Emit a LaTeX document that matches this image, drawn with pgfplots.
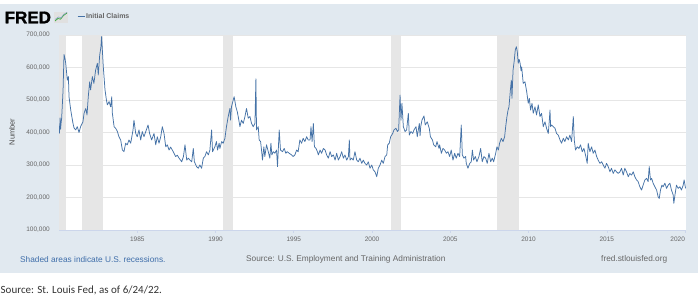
\documentclass[border=0pt]{standalone}
\usepackage{fontspec}
\setmainfont{Liberation Sans}
\newfontfamily\carlito{Carlito}
\newfontfamily\fredfont{Liberation Sans}[FakeBold=1.2]
\usepackage{pgfplots}
\usepackage{pgfplotstable}
\pgfplotsset{compat=1.18}
\definecolor{bgblue}{HTML}{E1E9F0}
\definecolor{recgray}{HTML}{E6E6E6}
\definecolor{gridgray}{HTML}{E6E6E6}
\definecolor{fredblue}{HTML}{4572A7}
\definecolor{ticktext}{HTML}{666666}
\definecolor{axisline}{HTML}{CCD6EB}
\definecolor{linkblue}{HTML}{3F6EAA}
\pgfplotstableread{
x y
1980.00 420
1980.03 398
1980.07 445
1980.10 410
1980.14 432
1980.17 444
1980.26 531
1980.32 640
1980.38 628
1980.43 613
1980.53 561
1980.60 572
1980.64 510
1980.75 469
1980.89 429
1980.96 414
1981.07 408
1981.17 418
1981.28 400
1981.38 418
1981.53 433
1981.60 459
1981.71 474
1981.79 454
1981.87 510
1981.96 556
1982.02 531
1982.13 572
1982.23 551
1982.34 592
1982.45 613
1982.51 577
1982.60 638
1982.68 664
1982.72 695
1982.77 654
1982.83 602
1982.94 531
1983.03 500
1983.09 485
1983.20 495
1983.30 479
1983.37 510
1983.41 459
1983.52 418
1983.62 413
1983.73 403
1983.83 387
1983.94 377
1984.05 346
1984.15 341
1984.26 367
1984.36 362
1984.47 377
1984.58 367
1984.73 408
1984.79 438
1984.90 397
1985.00 387
1985.11 408
1985.22 377
1985.32 403
1985.43 387
1985.58 408
1985.69 423
1985.79 397
1985.92 377
1986.07 397
1986.18 362
1986.28 387
1986.39 367
1986.50 387
1986.60 418
1986.71 397
1986.82 356
1986.92 362
1987.03 346
1987.13 355
1987.24 346
1987.35 336
1987.45 326
1987.56 330
1987.67 321
1987.84 310
1987.95 326
1988.05 362
1988.16 315
1988.26 321
1988.37 315
1988.48 310
1988.58 351
1988.65 310
1988.79 295
1988.90 290
1989.00 300
1989.11 290
1989.22 321
1989.32 326
1989.43 341
1989.54 331
1989.64 346
1989.75 408
1989.81 341
1989.96 356
1990.06 372
1990.13 346
1990.23 367
1990.28 351
1990.39 372
1990.49 367
1990.60 382
1990.70 418
1990.81 449
1990.92 474
1990.96 438
1991.02 479
1991.13 500
1991.19 510
1991.30 479
1991.39 464
1991.45 449
1991.56 418
1991.66 438
1991.77 428
1991.88 449
1991.98 474
1992.09 444
1992.20 449
1992.30 428
1992.41 418
1992.52 428
1992.58 565
1992.62 408
1992.73 418
1992.79 377
1992.88 372
1992.94 346
1993.00 315
1993.09 356
1993.15 326
1993.26 362
1993.37 341
1993.47 321
1993.54 367
1993.60 331
1993.69 341
1993.79 336
1993.90 346
1993.96 295
1994.07 408
1994.15 346
1994.28 341
1994.39 351
1994.49 336
1994.58 341
1994.71 336
1994.86 331
1994.96 326
1995.07 331
1995.18 346
1995.28 341
1995.39 377
1995.50 367
1995.60 382
1995.71 372
1995.82 387
1995.92 377
1996.04 377
1996.10 418
1996.17 372
1996.25 428
1996.32 356
1996.42 351
1996.51 341
1996.57 331
1996.68 346
1996.78 336
1996.89 351
1997.00 346
1997.10 331
1997.21 321
1997.32 341
1997.42 326
1997.53 331
1997.64 315
1997.74 336
1997.85 315
1997.96 326
1998.06 341
1998.17 321
1998.27 331
1998.38 315
1998.49 326
1998.55 377
1998.59 315
1998.70 321
1998.80 315
1998.91 341
1999.02 315
1999.12 310
1999.23 321
1999.34 305
1999.44 315
1999.55 305
1999.66 300
1999.76 310
1999.87 290
1999.98 300
2000.08 285
2000.19 279
2000.30 264
2000.40 290
2000.51 300
2000.62 315
2000.72 305
2000.83 326
2000.94 331
2001.00 362
2001.10 367
2001.19 387
2001.32 397
2001.40 408
2001.53 413
2001.62 403
2001.70 408
2001.79 515
2001.85 438
2001.91 490
2002.00 418
2002.11 403
2002.21 408
2002.32 459
2002.38 392
2002.49 403
2002.60 397
2002.68 408
2002.81 418
2002.89 387
2003.02 428
2003.07 390
2003.11 418
2003.19 438
2003.32 451
2003.40 423
2003.53 433
2003.66 412
2003.73 387
2003.86 377
2003.94 362
2004.07 356
2004.15 372
2004.28 351
2004.32 362
2004.43 336
2004.53 351
2004.64 346
2004.75 336
2004.85 341
2004.96 326
2005.06 346
2005.17 315
2005.28 336
2005.38 321
2005.49 336
2005.60 326
2005.70 423
2005.77 331
2005.87 321
2005.98 326
2006.02 305
2006.13 290
2006.24 305
2006.34 310
2006.41 346
2006.49 315
2006.60 326
2006.70 310
2006.83 326
2006.94 351
2007.04 310
2007.15 326
2007.26 321
2007.36 305
2007.47 336
2007.58 310
2007.68 321
2007.77 310
2007.90 336
2007.98 356
2008.07 346
2008.15 367
2008.26 382
2008.37 372
2008.47 387
2008.54 418
2008.62 449
2008.69 469
2008.75 479
2008.84 531
2008.90 561
2008.94 505
2009.01 592
2009.09 623
2009.15 654
2009.22 664
2009.28 649
2009.34 613
2009.40 625
2009.46 613
2009.52 590
2009.56 602
2009.66 551
2009.77 556
2009.88 526
2009.98 490
2010.05 505
2010.13 469
2010.22 490
2010.30 459
2010.41 479
2010.51 454
2010.62 485
2010.73 449
2010.83 459
2010.94 418
2011.05 433
2011.15 413
2011.26 397
2011.32 433
2011.37 469
2011.41 418
2011.47 423
2011.58 418
2011.69 413
2011.79 397
2011.90 392
2012.01 377
2012.11 367
2012.22 382
2012.32 372
2012.43 387
2012.54 377
2012.64 392
2012.75 372
2012.86 449
2012.92 377
2013.00 346
2013.11 356
2013.22 351
2013.32 362
2013.43 341
2013.54 351
2013.66 326
2013.75 305
2013.81 367
2013.92 341
2014.03 356
2014.13 336
2014.24 346
2014.35 326
2014.45 315
2014.56 305
2014.67 310
2014.77 300
2014.88 290
2014.98 305
2015.09 295
2015.20 279
2015.30 290
2015.41 274
2015.52 285
2015.62 279
2015.73 274
2015.84 279
2015.94 290
2016.05 269
2016.15 290
2016.26 279
2016.37 264
2016.47 274
2016.58 269
2016.69 279
2016.79 264
2016.90 254
2017.00 249
2017.11 233
2017.22 223
2017.32 238
2017.43 254
2017.54 259
2017.64 249
2017.71 295
2017.79 254
2017.86 259
2017.96 244
2018.07 233
2018.18 223
2018.28 202
2018.35 197
2018.43 223
2018.52 238
2018.60 233
2018.71 244
2018.82 228
2018.92 238
2019.03 244
2019.13 223
2019.24 208
2019.28 182
2019.37 213
2019.45 238
2019.56 228
2019.67 233
2019.77 223
2019.88 238
2019.94 254
2020.03 228
}\claims

\begin{document}
\begin{tikzpicture}[x=1pt,y=1pt]
\path[use as bounding box] (0,0) rectangle (698,304);
\fill[white] (0,0) rectangle (698,304);
\fill[bgblue] (0,31.3) rectangle (698,299.7);
\begin{axis}[
  at={(59pt,74pt)}, anchor=south west, scale only axis,
  width=627pt, height=195pt,
  xmin=1980, xmax=2020.06, ymin=100, ymax=700,
  axis background/.style={fill=white},
  axis x line*=bottom, axis y line*=left,
  x axis line style={draw=axisline, line width=0.8pt},
  y axis line style={draw=none},
  ytick={100,200,...,700},
  yticklabels={{100,000},{200,000},{300,000},{400,000},{500,000},{600,000},{700,000}},
  xtick={1985,1990,...,2015},
  extra x ticks={2020},
  extra x tick labels={2020},
  extra x tick style={xticklabel style={anchor=north east}},
  /pgf/number format/1000 sep={},
  /pgf/number format/assume math mode=true,
  ytick style={draw=none},
  xtick style={draw=axisline, line width=0.6pt},
  xtick align=outside,
  major tick length=3pt,
  ymajorgrids,
  grid style={draw=gridgray, line width=0.8pt},
  tick label style={font=\fontsize{6.5}{7}\selectfont, text=ticktext, inner sep=0pt},
  yticklabel style={anchor=east, xshift=-9pt},
  xticklabel style={anchor=north, yshift=-3.5pt},
  clip=true,
]
\addplot[fill=recgray, draw=none, forget plot] coordinates {(1980.0,100) (1980.0,700) (1980.47,700) (1980.47,100)} -- cycle;
\addplot[fill=recgray, draw=none, forget plot] coordinates {(1981.50,100) (1981.50,700) (1982.78,700) (1982.78,100)} -- cycle;
\addplot[fill=recgray, draw=none, forget plot] coordinates {(1990.50,100) (1990.50,700) (1991.14,700) (1991.14,100)} -- cycle;
\addplot[fill=recgray, draw=none, forget plot] coordinates {(2001.19,100) (2001.19,700) (2001.83,700) (2001.83,100)} -- cycle;
\addplot[fill=recgray, draw=none, forget plot] coordinates {(2007.97,100) (2007.97,700) (2009.41,700) (2009.41,100)} -- cycle;
\addplot[fredblue, line width=0.75pt, line join=round, mark=none] table[x=x,y=y]{\claims};
\end{axis}
% header
\node[anchor=west, inner sep=0pt, font=\fredfont\fontsize{17}{17}\selectfont\bfseries] at (4.5,286.5) {FRED};
\fill[black!12] (54,281.3) rectangle (68,292.3);
\draw[green!55!black!80, line width=0.7pt] (55,283) -- (58,285.5) -- (60.5,284.8) -- (63.5,288.5) -- (67,291);
\draw[fredblue!70, line width=0.5pt] (55,284.5) -- (58.5,287) -- (61,286.2) -- (64,289.8) -- (67,291.6);
\draw[fredblue, line width=1.2pt] (77.5,287.7) -- (84.5,287.7);
\node[anchor=west, inner sep=0pt, font=\fontsize{7}{8}\selectfont\bfseries, text=ticktext] at (86,287.7) {Initial Claims};
% y label
\node[rotate=90, inner sep=0pt, font=\fontsize{7.5}{9}\selectfont, text=black!70] at (12,172) {Number};
% footer
\node[anchor=west, inner sep=0pt, font=\fontsize{8.3}{10}\selectfont, text=linkblue] at (20,44.7) {Shaded areas indicate U.S. recessions.};
\node[anchor=west, inner sep=0pt, font=\fontsize{8.3}{10}\selectfont, text=ticktext] at (246,45) {Source: U.S. Employment and Training Administration};
\node[anchor=west, inner sep=0pt, font=\fontsize{8.3}{10}\selectfont, text=ticktext] at (601,45) {fred.stlouisfed.org};
\node[anchor=west, inner sep=0pt, font=\carlito\fontsize{11}{13}\selectfont, text=black!80] at (0.5,13.3) {Source: St. Louis Fed, as of 6/24/22.};
\end{tikzpicture}
\end{document}
